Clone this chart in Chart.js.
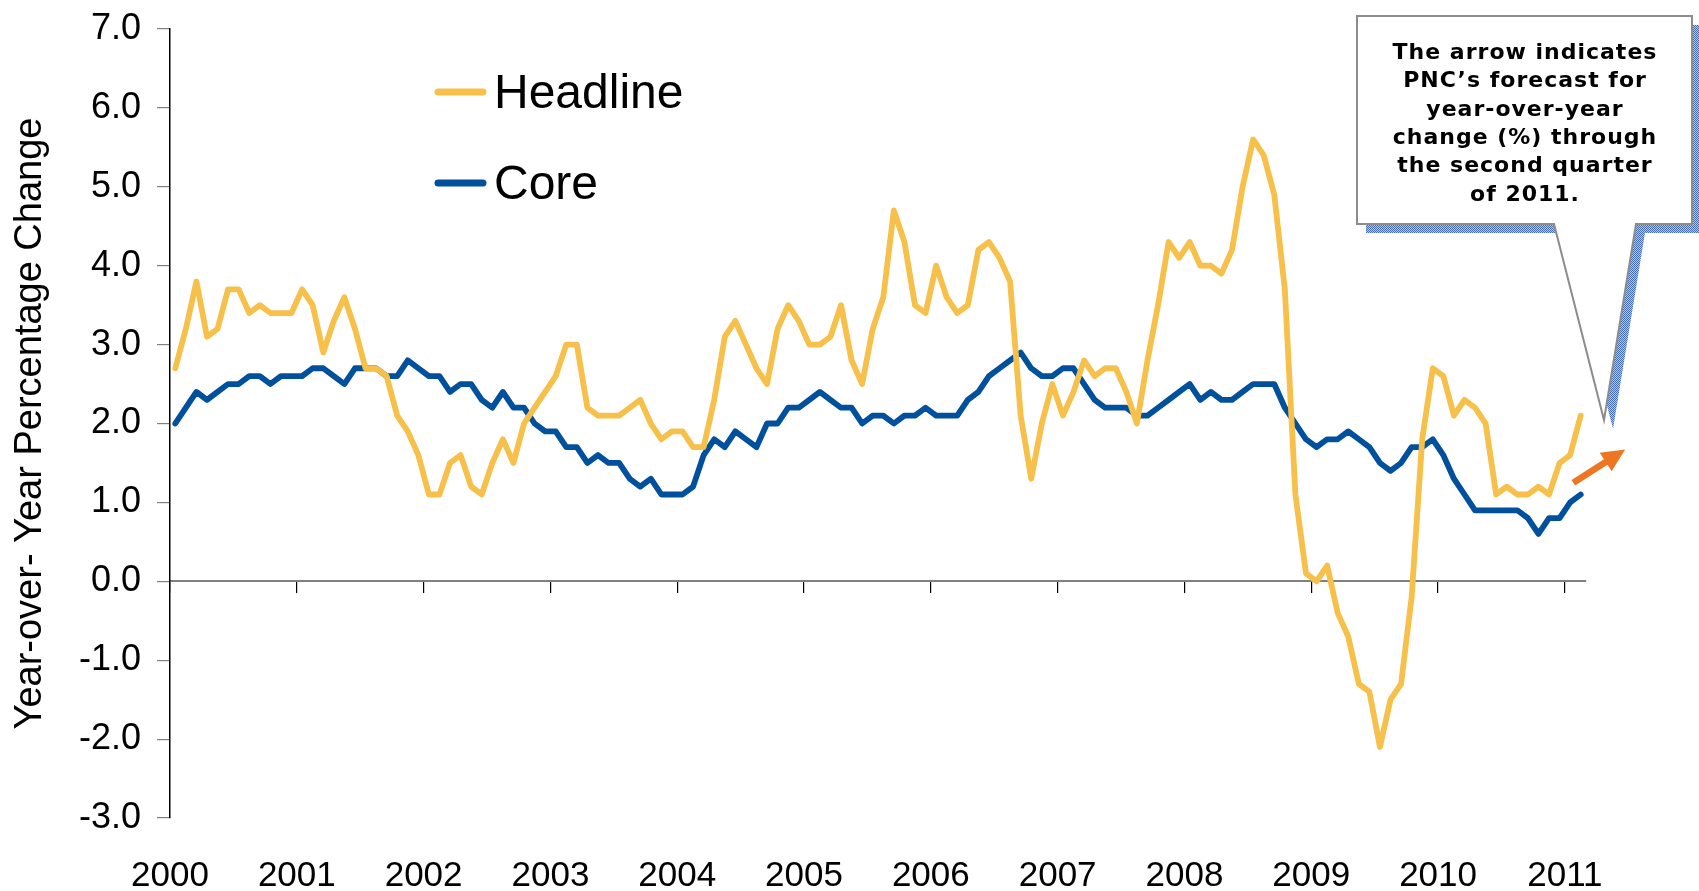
<!DOCTYPE html>
<html>
<head>
<meta charset="utf-8">
<title>Headline and Core CPI, Year-over-Year</title>
<script src="https://cdn.jsdelivr.net/npm/chart.js@4.4.0/dist/chart.umd.min.js"></script>
<style>
    html, body { margin: 0; padding: 0; background: #ffffff; }
    #wrap { width: 1699px; height: 891px; }
</style>
</head>
<body>
<div id="wrap"><canvas id="cpiChart" width="1699" height="891"></canvas></div>
<script>
    "use strict";

    // Year labels, one per January tick
    const yearLabels = ['2000', '2001', '2002', '2003', '2004', '2005',
                        '2006', '2007', '2008', '2009', '2010', '2011'];

    // Monthly year-over-year % change, Jan 2000 .. Feb 2011
    const headline = [
        2.7, 3.2, 3.8, 3.1, 3.2, 3.7, 3.7, 3.4, 3.5, 3.4, 3.4, 3.4,
        3.7, 3.5, 2.9, 3.3, 3.6, 3.2, 2.7, 2.7, 2.6, 2.1, 1.9, 1.6,
        1.1, 1.1, 1.5, 1.6, 1.2, 1.1, 1.5, 1.8, 1.5, 2.0, 2.2, 2.4,
        2.6, 3.0, 3.0, 2.2, 2.1, 2.1, 2.1, 2.2, 2.3, 2.0, 1.8, 1.9,
        1.9, 1.7, 1.7, 2.3, 3.1, 3.3, 3.0, 2.7, 2.5, 3.2, 3.5, 3.3,
        3.0, 3.0, 3.1, 3.5, 2.8, 2.5, 3.2, 3.6, 4.7, 4.3, 3.5, 3.4,
        4.0, 3.6, 3.4, 3.5, 4.2, 4.3, 4.1, 3.8, 2.1, 1.3, 2.0, 2.5,
        2.1, 2.4, 2.8, 2.6, 2.7, 2.7, 2.4, 2.0, 2.8, 3.5, 4.3, 4.1,
        4.3, 4.0, 4.0, 3.9, 4.2, 5.0, 5.6, 5.4, 4.9, 3.7, 1.1, 0.1,
        0.0, 0.2, -0.4, -0.7, -1.3, -1.4, -2.1, -1.5, -1.3, -0.2, 1.8, 2.7,
        2.6, 2.1, 2.3, 2.2, 2.0, 1.1, 1.2, 1.1, 1.1, 1.2, 1.1, 1.5,
        1.6, 2.1
    ];

    const core = [
        2.0, 2.2, 2.4, 2.3, 2.4, 2.5, 2.5, 2.6, 2.6, 2.5, 2.6, 2.6,
        2.6, 2.7, 2.7, 2.6, 2.5, 2.7, 2.7, 2.7, 2.6, 2.6, 2.8, 2.7,
        2.6, 2.6, 2.4, 2.5, 2.5, 2.3, 2.2, 2.4, 2.2, 2.2, 2.0, 1.9,
        1.9, 1.7, 1.7, 1.5, 1.6, 1.5, 1.5, 1.3, 1.2, 1.3, 1.1, 1.1,
        1.1, 1.2, 1.6, 1.8, 1.7, 1.9, 1.8, 1.7, 2.0, 2.0, 2.2, 2.2,
        2.3, 2.4, 2.3, 2.2, 2.2, 2.0, 2.1, 2.1, 2.0, 2.1, 2.1, 2.2,
        2.1, 2.1, 2.1, 2.3, 2.4, 2.6, 2.7, 2.8, 2.9, 2.7, 2.6, 2.6,
        2.7, 2.7, 2.5, 2.3, 2.2, 2.2, 2.2, 2.1, 2.1, 2.2, 2.3, 2.4,
        2.5, 2.3, 2.4, 2.3, 2.3, 2.4, 2.5, 2.5, 2.5, 2.2, 2.0, 1.8,
        1.7, 1.8, 1.8, 1.9, 1.8, 1.7, 1.5, 1.4, 1.5, 1.7, 1.7, 1.8,
        1.6, 1.3, 1.1, 0.9, 0.9, 0.9, 0.9, 0.9, 0.8, 0.6, 0.8, 0.8,
        1.0, 1.1
    ];

    // PNC forecast arrow: [month position, % change] at tail and head
    const forecastFrom = [132.8, 1.25];
    const forecastTo = [137.7, 1.67];

    const calloutLines = ['The arrow indicates', 'PNC\u2019s forecast for', 'year-over-year',
                          'change (%) through', 'the second quarter', 'of 2011.'];

    const FONT = 'Arial, "Liberation Sans", sans-serif';
    const HEADLINE_COLOR = '#F6C04A';
    const CORE_COLOR = '#00509E';
    const ARROW_COLOR = '#EE7623';
    const MONTHS_SHOWN = 134;

    /**
     * Turns a monthly series into {x, y} points placed mid-month
     * @param {list} values - monthly values starting Jan 2000
    */
    function toPoints(values) {
        return values.map((v, i) => ({ x: i + 0.5, y: v }));
    }

    function yearTicksOnly(scale) {
        scale.ticks = scale.ticks.filter(t => Math.round(t.value) % 12 === 0 && t.value <= 132);
    }

    function drawLegend(ctx, chart) {
        const rows = [92, 183];
        ctx.save();
        chart.data.datasets.forEach((ds, i) => {
            ctx.strokeStyle = ds.borderColor;
            ctx.lineWidth = 7;
            ctx.lineCap = 'round';
            ctx.beginPath();
            ctx.moveTo(438, rows[i]);
            ctx.lineTo(483, rows[i]);
            ctx.stroke();
            ctx.fillStyle = '#000';
            ctx.font = '48px ' + FONT;
            ctx.textAlign = 'left';
            ctx.textBaseline = 'middle';
            ctx.fillText(ds.label, 494, rows[i] + 3);
        });
        ctx.restore();
    }

    function drawForecastArrow(ctx, chart) {
        const xs = chart.scales.x;
        const ys = chart.scales.y;
        const x0 = xs.getPixelForValue(forecastFrom[0]);
        const y0 = ys.getPixelForValue(forecastFrom[1]);
        const x1 = xs.getPixelForValue(forecastTo[0]);
        const y1 = ys.getPixelForValue(forecastTo[1]);
        const len = Math.hypot(x1 - x0, y1 - y0);
        const ux = (x1 - x0) / len, uy = (y1 - y0) / len;
        const nx = -uy, ny = ux;
        const shaft = 3.3, head = 11, headLen = 23;
        const bx = x1 - ux * headLen, by = y1 - uy * headLen;

        ctx.save();
        ctx.fillStyle = ARROW_COLOR;
        ctx.beginPath();
        ctx.moveTo(x0 + nx * shaft, y0 + ny * shaft);
        ctx.lineTo(bx + nx * shaft, by + ny * shaft);
        ctx.lineTo(bx + nx * head, by + ny * head);
        ctx.lineTo(x1, y1);
        ctx.lineTo(bx - nx * head, by - ny * head);
        ctx.lineTo(bx - nx * shaft, by - ny * shaft);
        ctx.lineTo(x0 - nx * shaft, y0 - ny * shaft);
        ctx.closePath();
        ctx.fill();
        ctx.restore();
    }

    function calloutPath(ctx, dx, dy) {
        ctx.beginPath();
        ctx.moveTo(1357 + dx, 16 + dy);
        ctx.lineTo(1692 + dx, 16 + dy);
        ctx.lineTo(1692 + dx, 224 + dy);
        ctx.lineTo(1636 + dx, 224 + dy);
        ctx.lineTo(1604 + dx, 420 + dy);
        ctx.lineTo(1554 + dx, 224 + dy);
        ctx.lineTo(1357 + dx, 224 + dy);
        ctx.closePath();
    }

    function drawCallout(ctx) {
        // dotted blue shadow
        const tile = document.createElement('canvas');
        tile.width = 2;
        tile.height = 2;
        const t = tile.getContext('2d');
        t.fillStyle = '#B0C2E4';
        t.fillRect(0, 0, 2, 2);
        t.fillStyle = '#4A72B2';
        t.fillRect(0, 0, 1, 1);
        t.fillRect(1, 1, 1, 1);

        ctx.save();
        ctx.fillStyle = ctx.createPattern(tile, 'repeat');
        calloutPath(ctx, 9, 9);
        ctx.fill();

        ctx.fillStyle = '#ffffff';
        ctx.strokeStyle = '#8C8C8C';
        ctx.lineWidth = 2;
        ctx.lineJoin = 'miter';
        calloutPath(ctx, 0, 0);
        ctx.fill();
        ctx.stroke();

        ctx.fillStyle = '#000';
        ctx.font = 'bold 22px "DejaVu Sans", Verdana, sans-serif';
        ctx.letterSpacing = '1px';
        ctx.textAlign = 'center';
        ctx.textBaseline = 'middle';
        calloutLines.forEach((line, i) => {
            ctx.fillText(line, 1525, 53 + i * 28.4);
        });
        ctx.restore();
    }

    const overlayPlugin = {
        id: 'overlay',
        afterDraw(chart) {
            const ctx = chart.ctx;
            drawLegend(ctx, chart);
            drawForecastArrow(ctx, chart);
            drawCallout(ctx);
        }
    };

    function createChart() {
        const ctx = document.getElementById('cpiChart').getContext('2d');
        return new Chart(ctx, {
            type: 'line',
            data: {
                datasets: [
                    {
                        label: 'Headline',
                        data: toPoints(headline),
                        borderColor: HEADLINE_COLOR,
                        backgroundColor: HEADLINE_COLOR,
                        borderWidth: 5.8,
                        pointRadius: 0,
                        tension: 0,
                        fill: false,
                        borderJoinStyle: 'round',
                        borderCapStyle: 'round'
                    }, {
                        label: 'Core',
                        data: toPoints(core),
                        borderColor: CORE_COLOR,
                        backgroundColor: CORE_COLOR,
                        borderWidth: 5.8,
                        pointRadius: 0,
                        tension: 0,
                        fill: false,
                        borderJoinStyle: 'round',
                        borderCapStyle: 'round'
                    }
                ]
            },
            options: {
                responsive: false,
                animation: false,
                devicePixelRatio: 1,
                layout: { padding: { top: 29, right: 113, bottom: 0, left: 0 } },
                scales: {
                    // zero line with the yearly tick marks
                    x: {
                        type: 'linear',
                        position: { y: 0 },
                        min: 0,
                        max: MONTHS_SHOWN,
                        afterBuildTicks: yearTicksOnly,
                        ticks: { display: false, stepSize: 12, includeBounds: false },
                        grid: { drawOnChartArea: false, drawTicks: true, tickLength: 11, color: '#000', lineWidth: 1.2 },
                        border: { color: '#808080', width: 2 }
                    },
                    // year labels along the bottom
                    years: {
                        type: 'linear',
                        position: 'bottom',
                        min: 0,
                        max: MONTHS_SHOWN,
                        afterBuildTicks: yearTicksOnly,
                        afterFit: s => { s.height = 73; },
                        ticks: {
                            stepSize: 12,
                            includeBounds: false,
                            autoSkip: false,
                            maxRotation: 0,
                            padding: 37,
                            color: '#000',
                            font: { size: 35, family: FONT },
                            callback: v => yearLabels[Math.round(v / 12)]
                        },
                        grid: { display: false, drawTicks: false },
                        border: { display: false }
                    },
                    y: {
                        min: -3,
                        max: 7,
                        afterFit: s => {
                            s.width = 170;
                            s.paddingTop = 0;
                            s.paddingBottom = 0;
                        },
                        ticks: {
                            stepSize: 1,
                            padding: 16,
                            color: '#000',
                            font: { size: 36, family: FONT },
                            callback: v => v.toFixed(1)
                        },
                        grid: { drawOnChartArea: false, tickLength: 13, color: '#808080', lineWidth: 1.2 },
                        border: { color: '#000', width: 1.5 },
                        title: {
                            display: true,
                            text: 'Year-over- Year Percentage Change',
                            color: '#000',
                            font: { size: 38, family: FONT },
                            padding: { top: 8, bottom: 0 }
                        }
                    }
                },
                plugins: {
                    legend: { display: false },
                    tooltip: { enabled: false }
                }
            },
            plugins: [overlayPlugin]
        });
    }

    createChart();
</script>
</body>
</html>
